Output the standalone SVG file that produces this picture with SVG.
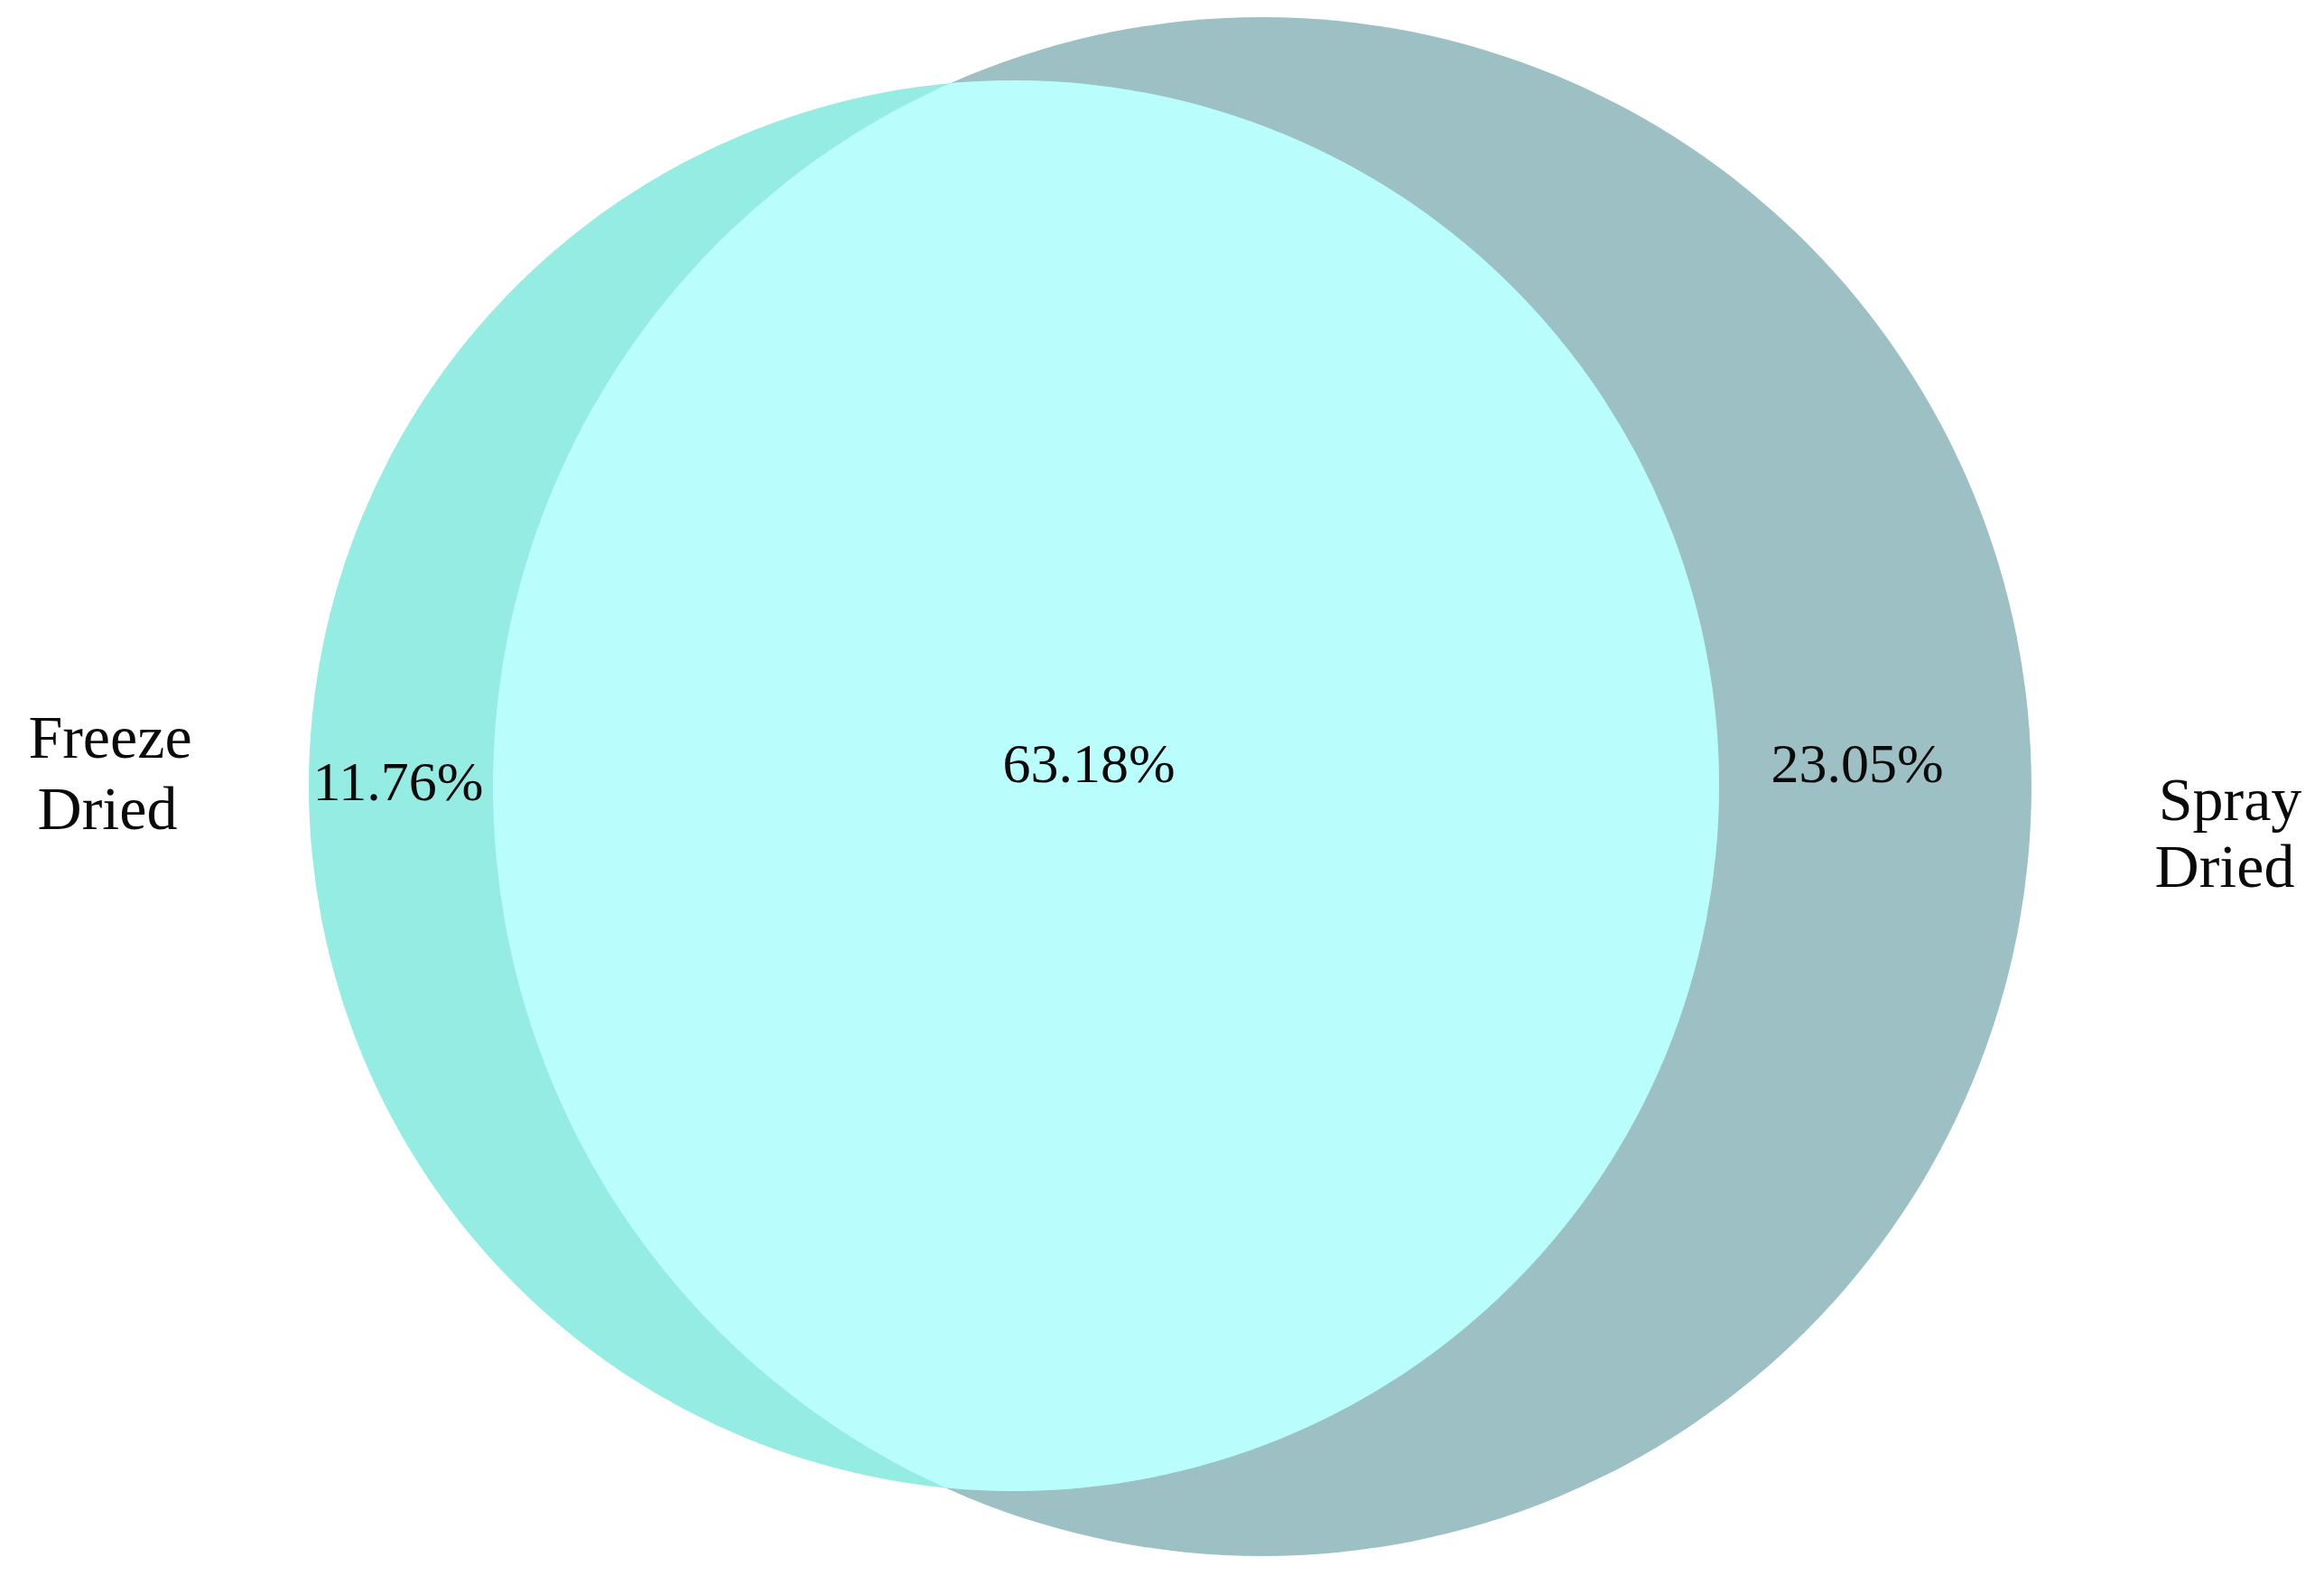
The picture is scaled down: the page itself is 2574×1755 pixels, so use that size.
<svg xmlns="http://www.w3.org/2000/svg" width="2574" height="1755" viewBox="0 0 2574 1755">
<style>
text{font-family:"Liberation Serif","DejaVu Serif",serif;font-size:62px;fill:#0a0a0a;text-anchor:middle}
.lbl{font-size:68px}
</style>
<defs>
<clipPath id="clipSpray"><circle cx="1398" cy="871" r="852"/></clipPath>
</defs>
<rect width="2574" height="1755" fill="#fff"/>
<g id="spray-dried">
<circle cx="1398" cy="871" r="852" fill="#9CC0C4"/>
</g>
<g id="freeze-dried">
<circle cx="1123" cy="870" r="781" fill="#95ECE2"/>
</g>
<g id="overlap">
<circle cx="1123" cy="870" r="781" fill="#B9FEFC" clip-path="url(#clipSpray)"/>
</g>
<g id="labels">
<text class="lbl" x="122" y="839">Freeze</text>
<text class="lbl" x="119" y="918">Dried</text>
<text class="lbl" x="2470" y="908">Spray</text>
<text class="lbl" x="2464" y="982">Dried</text>
<text x="441" y="886">11.76%</text>
<text x="1206" y="866">63.18%</text>
<text x="2057" y="866">23.05%</text>
</g>
</svg>
